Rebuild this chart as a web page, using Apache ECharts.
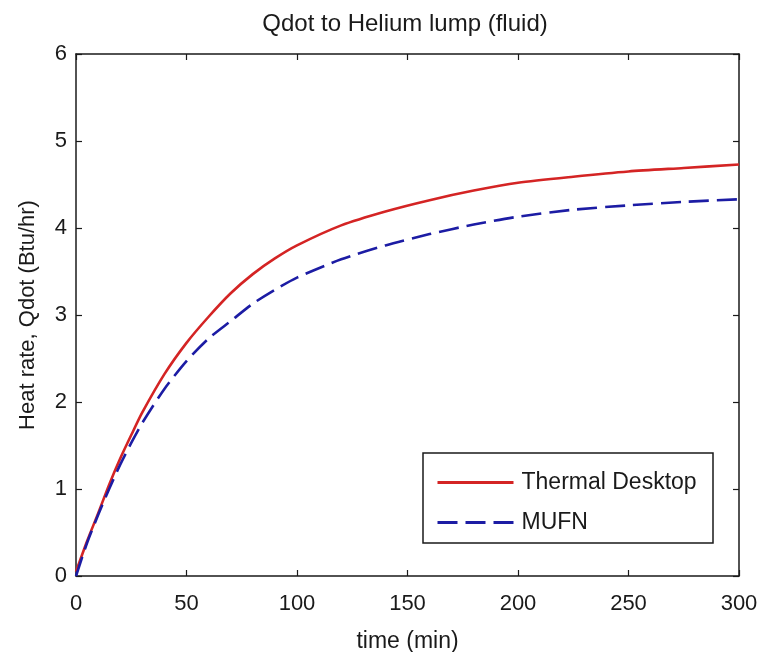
<!DOCTYPE html>
<html>
<head>
<meta charset="utf-8">
<title>Qdot to Helium lump (fluid)</title>
<script src="https://cdn.jsdelivr.net/npm/echarts@6/dist/echarts.min.js"></script>
<style>
  html, body { margin: 0; padding: 0; background: #ffffff; }
  #chart { width: 763px; height: 652px; }
</style>
</head>
<body>
<div id="chart"></div>
<script>
// Time samples (min)
const timeMin = [0, 5, 10, 15, 20, 25, 30, 40, 50, 60, 70, 80, 90, 100, 120, 140, 160, 180, 200, 225, 250, 275, 300];
// Heat rate into the helium lump (Btu/hr)
const thermalDesktop = [0.05, 0.40, 0.72, 1.05, 1.35, 1.62, 1.88, 2.32, 2.68, 2.98, 3.25, 3.47, 3.65, 3.80, 4.03, 4.19, 4.32, 4.43, 4.52, 4.59, 4.65, 4.69, 4.73];
const mufn = [0.00, 0.38, 0.70, 1.00, 1.28, 1.53, 1.76, 2.15, 2.47, 2.73, 2.93, 3.13, 3.29, 3.43, 3.64, 3.80, 3.93, 4.04, 4.13, 4.21, 4.26, 4.30, 4.33];
const xTicks = [0, 50, 100, 150, 200, 250, 300];
const yTicks = [0, 1, 2, 3, 4, 5, 6];

const FONT = '"Liberation Sans", Arial, Helvetica, sans-serif';
const INK = '#1a1a1a';

const pairs = (ys) => timeMin.map((t, i) => [t, ys[i]]);

const boxAxis = {
  axisLine: { show: true, onZero: false, lineStyle: { color: INK, width: 1.5 } },
  axisTick: { show: true, inside: true, length: 6, lineStyle: { color: INK, width: 1.2 } },
  splitLine: { show: false }
};

const chart = echarts.init(document.getElementById('chart'), null, { renderer: 'canvas' });
chart.setOption({
  backgroundColor: '#ffffff',
  animation: false,
  title: {
    text: 'Qdot to Helium lump (fluid)',
    left: 405, textAlign: 'center', top: 12, padding: 0,
    textStyle: { fontFamily: FONT, fontSize: 24, fontWeight: 'normal', color: INK }
  },
  grid: { left: 76, right: 24, top: 54, bottom: 76, containLabel: false, outerBoundsMode: 'none' },
  xAxis: [
    Object.assign({
      type: 'value', position: 'bottom',
      min: xTicks[0], max: xTicks[xTicks.length - 1], interval: xTicks[1] - xTicks[0],
      name: 'time (min)', nameLocation: 'middle', nameGap: 54,
      nameTextStyle: { fontFamily: FONT, fontSize: 23, color: INK },
      axisLabel: { margin: 17, fontFamily: FONT, fontSize: 22, color: INK }
    }, boxAxis),
    Object.assign({
      type: 'value', position: 'top',
      min: xTicks[0], max: xTicks[xTicks.length - 1], interval: xTicks[1] - xTicks[0],
      axisLabel: { show: false }
    }, boxAxis)
  ],
  yAxis: [
    Object.assign({
      type: 'value', position: 'left',
      min: yTicks[0], max: yTicks[yTicks.length - 1], interval: yTicks[1] - yTicks[0],
      name: 'Heat rate, Qdot (Btu/hr)', nameLocation: 'middle', nameGap: 37, nameRotate: 90,
      nameTextStyle: { fontFamily: FONT, fontSize: 22, color: INK },
      axisLabel: { margin: 9, fontFamily: FONT, fontSize: 22, color: INK }
    }, boxAxis),
    Object.assign({
      type: 'value', position: 'right',
      min: yTicks[0], max: yTicks[yTicks.length - 1], interval: yTicks[1] - yTicks[0],
      axisLabel: { show: false }
    }, boxAxis)
  ],
  legend: {
    orient: 'vertical', left: 436, top: 471, padding: 0,
    itemWidth: 76, itemHeight: 14, itemGap: 17, z: 10,
    itemStyle: { opacity: 0 },
    lineStyle: { width: 3 },
    textStyle: { fontFamily: FONT, fontSize: 23, color: INK, padding: [0, 0, 0, 3] },
    data: ['Thermal Desktop', 'MUFN']
  },
  graphic: [{
    type: 'rect', z: 5,
    shape: { x: 423, y: 453, width: 290, height: 90 },
    style: { fill: '#ffffff', stroke: INK, lineWidth: 1.5 }
  }],
  series: [
    {
      name: 'Thermal Desktop', type: 'line', xAxisIndex: 0, yAxisIndex: 0,
      data: pairs(thermalDesktop), showSymbol: false, symbol: 'none',
      smooth: 0.25,
      lineStyle: { color: '#d42424', width: 2.6 }, itemStyle: { color: '#d42424' }
    },
    {
      name: 'MUFN', type: 'line', xAxisIndex: 0, yAxisIndex: 0,
      data: pairs(mufn), showSymbol: false, symbol: 'none',
      smooth: 0.25,
      lineStyle: { color: '#1c1ca4', width: 2.6, type: [20, 8] }, itemStyle: { color: '#1c1ca4' }
    }
  ]
});
</script>
</body>
</html>
